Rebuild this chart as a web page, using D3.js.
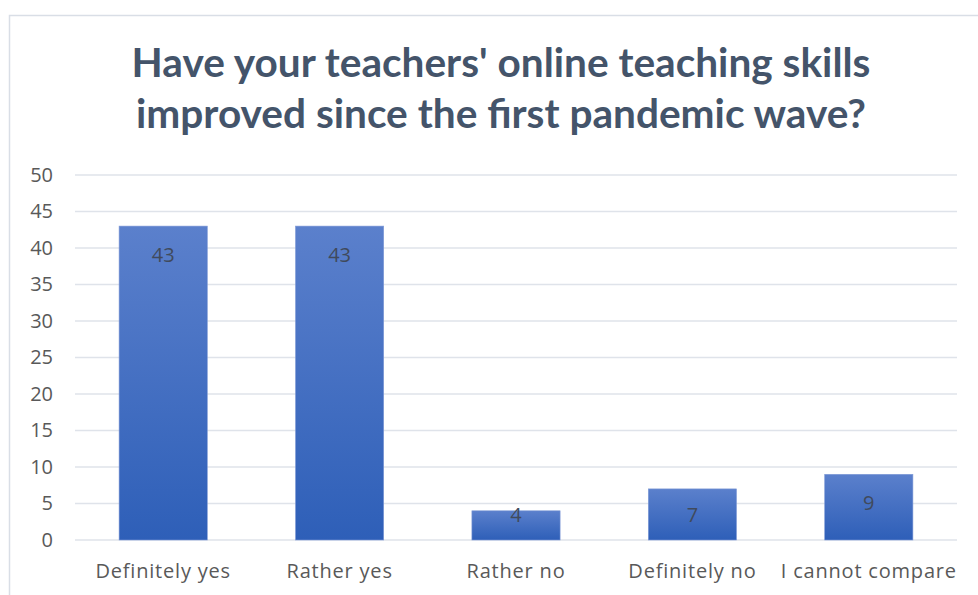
<!DOCTYPE html>
<html>
<head>
<meta charset="utf-8">
<script src="https://cdn.jsdelivr.net/npm/d3@7"></script>
<style>
  body { margin: 0; background: #fff; }
  svg { display: block; }
</style>
</head>
<body>
<svg id="chart" width="978" height="595"></svg>
<script>
// chart data
var categories = ['Definitely yes', 'Rather yes', 'Rather no', 'Definitely no', 'I cannot compare'];
var values = [43, 43, 4, 7, 9];
var yTicks = [0, 5, 10, 15, 20, 25, 30, 35, 40, 45, 50];
var titleLines = ["Have your teachers' online teaching skills", 'improved since the first pandemic wave?'];

var data = categories.map(function(c, i) { return {category: c, value: values[i]}; });

var svg = d3.select('#chart');
var titleFont = "Lato, 'Open Sans', sans-serif";
var font = "'Open Sans', Lato, sans-serif";

// outer chart border (cut off at the right and bottom)
svg.append('rect')
  .attr('x', 9.5).attr('y', 15.5)
  .attr('width', 1000).attr('height', 700)
  .attr('fill', 'none')
  .attr('stroke', '#d9dee6')
  .attr('stroke-width', 1.5);

// gradient for the bars
var grad = svg.append('defs').append('linearGradient')
  .attr('id', 'barGrad')
  .attr('x1', 0).attr('y1', 0).attr('x2', 0).attr('y2', 1);
grad.append('stop').attr('offset', '0%').attr('stop-color', '#5b80cc');
grad.append('stop').attr('offset', '100%').attr('stop-color', '#2e5fb8');

// title
svg.append('g').selectAll('text')
  .data(titleLines)
  .enter().append('text')
  .attr('x', 501)
  .attr('y', function(d, i) { return 77 + i * 51; })
  .attr('text-anchor', 'middle')
  .attr('font-family', titleFont)
  .attr('font-weight', 'bold')
  .attr('font-size', 40.6)
  .attr('fill', '#44546a')
  .text(function(d) { return d; });

var margin = {left: 75, right: 957, top: 175, bottom: 540};

var x = d3.scaleBand()
  .domain(categories)
  .range([margin.left, margin.right])
  .paddingInner(0.5)
  .paddingOuter(0.25);

var y = d3.scaleLinear()
  .domain([0, 50])
  .range([margin.bottom, margin.top]);

// gridlines
svg.append('g').selectAll('line')
  .data(yTicks)
  .enter().append('line')
  .attr('x1', margin.left).attr('x2', margin.right)
  .attr('y1', function(d) { return y(d); })
  .attr('y2', function(d) { return y(d); })
  .attr('stroke', '#dfe3ea')
  .attr('stroke-width', 1.5);

// y axis labels
var yAxis = svg.append('g')
  .attr('transform', 'translate(' + (margin.left - 22) + ',0)')
  .call(d3.axisLeft(y).tickValues(yTicks).tickSize(0).tickPadding(0));
yAxis.select('.domain').remove();
yAxis.selectAll('text')
  .attr('font-family', font)
  .attr('font-size', 20)
  .attr('fill', '#595959');

// bars
svg.append('g').selectAll('.bar')
  .data(data)
  .enter().append('rect')
  .attr('class', 'bar')
  .attr('x', function(d) { return x(d.category); })
  .attr('y', function(d) { return y(d.value); })
  .attr('width', x.bandwidth())
  .attr('height', function(d) { return y(0) - y(d.value); })
  .attr('fill', 'url(#barGrad)')
  .attr('stroke', '#7f9ad6')
  .attr('stroke-width', 0.6);

// data labels, inside end, kept above the baseline for short bars
svg.append('g').selectAll('text')
  .data(data)
  .enter().append('text')
  .attr('x', function(d) { return x(d.category) + x.bandwidth() / 2; })
  .attr('y', function(d) { return Math.min(y(d.value) + 36, y(0) - 18); })
  .attr('text-anchor', 'middle')
  .attr('font-family', font)
  .attr('font-size', 20)
  .attr('fill', '#404a5c')
  .text(function(d) { return d.value; });

// x axis labels
var xAxis = svg.append('g')
  .attr('transform', 'translate(0,' + margin.bottom + ')')
  .call(d3.axisBottom(x).tickSize(0).tickPadding(0));
xAxis.select('.domain').remove();
xAxis.selectAll('text')
  .attr('dy', null)
  .attr('y', 38)
  .attr('font-family', font)
  .attr('font-size', 20)
  .attr('letter-spacing', 0.8)
  .attr('fill', '#595959');
</script>
</body>
</html>
